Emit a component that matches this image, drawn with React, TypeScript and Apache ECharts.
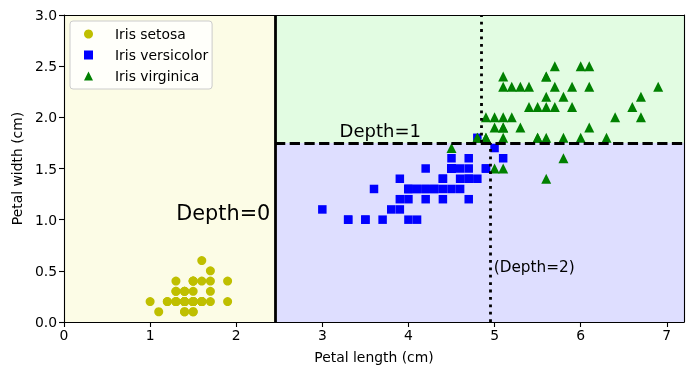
import React, { useEffect, useRef } from "react";
import * as echarts from "echarts";

// Iris petal length / width (cm)
const setosa: number[][] = [
  [1.4, 0.2], [1.4, 0.2], [1.3, 0.2], [1.5, 0.2], [1.4, 0.2], [1.7, 0.4], [1.4, 0.3], [1.5, 0.2], [1.4, 0.2], [1.5, 0.1],
  [1.5, 0.2], [1.6, 0.2], [1.4, 0.1], [1.1, 0.1], [1.2, 0.2], [1.5, 0.4], [1.3, 0.4], [1.4, 0.3], [1.7, 0.3], [1.5, 0.3],
  [1.7, 0.2], [1.5, 0.4], [1.0, 0.2], [1.7, 0.5], [1.9, 0.2], [1.6, 0.2], [1.6, 0.4], [1.5, 0.2], [1.4, 0.2], [1.6, 0.2],
  [1.6, 0.2], [1.5, 0.4], [1.5, 0.1], [1.4, 0.2], [1.5, 0.2], [1.2, 0.2], [1.3, 0.2], [1.4, 0.1], [1.3, 0.2], [1.5, 0.2],
  [1.3, 0.3], [1.3, 0.3], [1.3, 0.2], [1.6, 0.6], [1.9, 0.4], [1.4, 0.3], [1.6, 0.2], [1.4, 0.2], [1.5, 0.2], [1.4, 0.2],
];
const versicolor: number[][] = [
  [4.7, 1.4], [4.5, 1.5], [4.9, 1.5], [4.0, 1.3], [4.6, 1.5], [4.5, 1.3], [4.7, 1.6], [3.3, 1.0], [4.6, 1.3], [3.9, 1.4],
  [3.5, 1.0], [4.2, 1.5], [4.0, 1.0], [4.7, 1.4], [3.6, 1.3], [4.4, 1.4], [4.5, 1.5], [4.1, 1.0], [4.5, 1.5], [3.9, 1.1],
  [4.8, 1.8], [4.0, 1.3], [4.9, 1.5], [4.7, 1.2], [4.3, 1.3], [4.4, 1.4], [4.8, 1.4], [5.0, 1.7], [4.5, 1.5], [3.5, 1.0],
  [3.8, 1.1], [3.7, 1.0], [3.9, 1.2], [5.1, 1.6], [4.5, 1.5], [4.5, 1.6], [4.7, 1.5], [4.4, 1.3], [4.1, 1.3], [4.0, 1.3],
  [4.4, 1.2], [4.6, 1.4], [4.0, 1.2], [3.3, 1.0], [4.2, 1.3], [4.2, 1.2], [4.2, 1.3], [4.3, 1.3], [3.0, 1.1], [4.1, 1.3],
];
const virginica: number[][] = [
  [6.0, 2.5], [5.1, 1.9], [5.9, 2.1], [5.6, 1.8], [5.8, 2.2], [6.6, 2.1], [4.5, 1.7], [6.3, 1.8], [5.8, 1.8], [6.1, 2.5],
  [5.1, 2.0], [5.3, 1.9], [5.5, 2.1], [5.0, 2.0], [5.1, 2.4], [5.3, 2.3], [5.5, 1.8], [6.7, 2.2], [6.9, 2.3], [5.0, 1.5],
  [5.7, 2.3], [4.9, 2.0], [6.7, 2.0], [4.9, 1.8], [5.7, 2.1], [6.0, 1.8], [4.8, 1.8], [4.9, 1.8], [5.6, 2.1], [5.8, 1.6],
  [6.1, 1.9], [6.4, 2.0], [5.6, 2.2], [5.1, 1.5], [5.6, 1.4], [6.1, 2.3], [5.6, 2.4], [5.5, 1.8], [4.8, 1.8], [5.4, 2.1],
  [5.6, 2.4], [5.1, 2.3], [5.1, 1.9], [5.9, 2.3], [5.7, 2.5], [5.2, 2.3], [5.0, 1.9], [5.2, 2.0], [5.4, 2.3], [5.1, 1.8],
];

const seriesNames = ["Iris setosa", "Iris versicolor", "Iris virginica"];

// decision tree thresholds
const rootSplit = 2.45; // petal length
const depth1Split = 1.75; // petal width
const depth2SplitLow = 4.95; // petal length (below 1.75)
const depth2SplitHigh = 4.85; // petal length (above 1.75)

const xRange = [0, 7.2];
const yRange = [0, 3];

// annotation texts: [x, y, text]
const annotations: [number, number, string][] = [
  [1.85, 1.07, "Depth=0"],
  [3.2, 1.8, "Depth=1"],
  [4.99, 0.5, "(Depth=2)"],
];

const FONT = "DejaVu Sans";

export default function App() {
  const ref = useRef<HTMLDivElement>(null);
  useEffect(() => {
    if (!ref.current) return;
    const chart = echarts.init(ref.current, undefined, { renderer: "svg" });
    const axisCommon = {
      axisLine: { show: true, onZero: false, lineStyle: { color: "#000", width: 1.1 } },
      axisTick: { show: true, inside: false, length: 5, lineStyle: { color: "#000", width: 1.1 } },
      splitLine: { show: false },
      nameLocation: "middle" as const,
      nameTextStyle: { fontFamily: FONT, fontSize: 13.9, color: "#000" },
    };
    const annotationSizes = [20.8, 18, 15.3];
    const annotationOffsets = [0, 2, 4];
    const LW = 2.8;
    chart.setOption({
      animation: false,
      textStyle: { fontFamily: FONT },
      grid: { left: 64, right: 11, top: 15, bottom: 48, containLabel: false },
      legend: {
        orient: "vertical",
        left: 70,
        top: 21,
        padding: [5, 4, 5, 14],
        itemGap: 5,
        itemWidth: 9,
        itemHeight: 9,
        backgroundColor: "rgba(255,255,255,0.8)",
        borderColor: "#cccccc",
        borderWidth: 1,
        borderRadius: 3,
        data: [
          { name: seriesNames[0], icon: "circle" },
          { name: seriesNames[1], icon: "rect" },
          { name: seriesNames[2], icon: "triangle" },
        ],
        textStyle: { fontFamily: FONT, fontSize: 13.9, color: "#000", padding: [0, 0, 0, 17], lineHeight: 16 },
      },
      xAxis: [
        {
          ...axisCommon,
          type: "value",
          min: xRange[0],
          max: xRange[1],
          interval: 1,
          name: "Petal length (cm)",
          nameGap: 28,
          z: 10,
          axisTick: { ...axisCommon.axisTick, interval: (_i: number, v: any) => Number.isInteger(Number(v)) },
          axisLabel: {
            fontFamily: FONT,
            fontSize: 13.9,
            color: "#000",
            margin: 6,
            showMaxLabel: false,
            formatter: (v: number) => (Number.isInteger(v) ? String(v) : ""),
          },
        },
        {
          type: "value",
          position: "top",
          min: xRange[0],
          max: xRange[1],
          z: 10,
          axisLine: { show: true, onZero: false, lineStyle: { color: "#000", width: 1.1 } },
          axisTick: { show: false },
          axisLabel: { show: false },
          splitLine: { show: false },
        },
      ],
      yAxis: [
        {
          ...axisCommon,
          type: "value",
          min: yRange[0],
          max: yRange[1],
          interval: 0.5,
          name: "Petal width (cm)",
          nameGap: 38,
          z: 10,
          axisLabel: {
            fontFamily: FONT,
            fontSize: 13.9,
            color: "#000",
            margin: 7,
            formatter: (v: number) => v.toFixed(1),
          },
        },
        {
          type: "value",
          position: "right",
          min: yRange[0],
          max: yRange[1],
          z: 10,
          axisLine: { show: true, onZero: false, lineStyle: { color: "#000", width: 1.1 } },
          axisTick: { show: false },
          axisLabel: { show: false },
          splitLine: { show: false },
        },
      ],
      series: [
        {
          name: "regions",
          type: "scatter",
          data: [],
          silent: true,
          z: 0,
          markArea: {
            silent: true,
            label: { show: false },
            data: [
              [
                { xAxis: xRange[0], yAxis: yRange[0], itemStyle: { color: "#fcfce6", opacity: 1 } },
                { xAxis: rootSplit, yAxis: yRange[1] },
              ],
              [
                { xAxis: rootSplit, yAxis: yRange[0], itemStyle: { color: "#dedeff", opacity: 1 } },
                { xAxis: xRange[1], yAxis: depth1Split },
              ],
              [
                { xAxis: rootSplit, yAxis: depth1Split, itemStyle: { color: "#e2fce2", opacity: 1 } },
                { xAxis: xRange[1], yAxis: yRange[1] },
              ],
            ],
          },
        },
        {
          name: seriesNames[0],
          type: "scatter",
          data: setosa,
          symbol: "circle",
          symbolSize: 9,
          itemStyle: { color: "#bfbf00", opacity: 1 },
          z: 3,
        },
        {
          name: seriesNames[1],
          type: "scatter",
          data: versicolor,
          symbol: "rect",
          symbolSize: 8.5,
          itemStyle: { color: "#0000ff", opacity: 1 },
          z: 3,
        },
        {
          name: seriesNames[2],
          type: "scatter",
          data: virginica,
          symbol: "triangle",
          symbolSize: 10,
          itemStyle: { color: "#008000", opacity: 1 },
          z: 3,
        },
        {
          name: "boundaries",
          type: "scatter",
          data: [],
          silent: true,
          z: 5,
          markLine: {
            silent: true,
            symbol: ["none", "none"],
            label: { show: false },
            animation: false,
            data: [
              [
                { coord: [rootSplit, yRange[0]], lineStyle: { color: "#000", width: LW, type: "solid", opacity: 1 } },
                { coord: [rootSplit, yRange[1]] },
              ],
              [
                { coord: [rootSplit, depth1Split], lineStyle: { color: "#000", width: LW, type: [10.3, 4.4], opacity: 1 } },
                { coord: [xRange[1], depth1Split] },
              ],
              [
                { coord: [depth2SplitLow, yRange[0]], lineStyle: { color: "#000", width: LW, type: [2.8, 4.6], opacity: 1 } },
                { coord: [depth2SplitLow, depth1Split] },
              ],
              [
                { coord: [depth2SplitHigh, depth1Split], lineStyle: { color: "#000", width: LW, type: [2.8, 4.6], opacity: 1 } },
                { coord: [depth2SplitHigh, yRange[1]] },
              ],
            ],
          },
        },
        {
          name: "annotations",
          type: "scatter",
          silent: true,
          symbolSize: 0,
          z: 6,
          itemStyle: { opacity: 1 },
          data: annotations.map((a, i) => ({
            value: [a[0], a[1]],
            label: {
              show: true,
              formatter: a[2],
              position: "inside",
              align: i === 0 ? "center" : "left",
              verticalAlign: i === 0 ? "middle" : "bottom",
              offset: [0, annotationOffsets[i]],
              fontFamily: FONT,
              fontSize: annotationSizes[i],
              color: "#000",
              opacity: 1,
            },
          })),
        },
      ],
    });
    return () => chart.dispose();
  }, []);
  return <div ref={ref} style={{ position: "fixed", left: 0, top: 0, width: 695, height: 370 }} />;
}
